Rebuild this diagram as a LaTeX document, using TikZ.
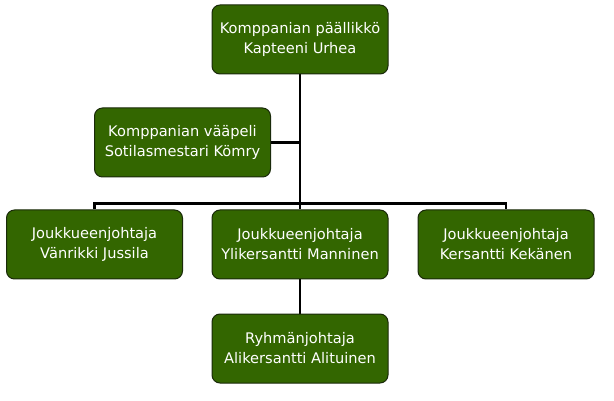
\documentclass[tikz,border=0pt]{standalone}
\usepackage{fontspec}
\setmainfont{DejaVu Sans}
\definecolor{boxgreen}{HTML}{336600}
\definecolor{boxedge}{HTML}{1A2A0A}
\pgfdeclarelayer{background}
\pgfsetlayers{background,main}
\begin{document}
\begin{tikzpicture}[x=1pt,y=-1pt,
  box/.style={draw=boxedge, line width=1pt, fill=boxgreen, rounded corners=8pt,
    minimum width=176pt, minimum height=69pt, align=center, text=white,
    font=\fontsize{14.6}{20}\selectfont, inner sep=0pt},
  conn/.style={line width=2.6pt, draw=black}]
\useasboundingbox (0,0) rectangle (614,401);
\node[box] (cpt) at (300,39.5) {Komppanian päällikkö\\Kapteeni Urhea};
\node[box] (vp) at (182.5,142.5) {Komppanian vääpeli\\Sotilasmestari Kömry};
\node[box] (j1) at (94.5,244.5) {Joukkueenjohtaja\\Vänrikki Jussila};
\node[box] (j2) at (300,244.5) {Joukkueenjohtaja\\Ylikersantti Manninen};
\node[box] (j3) at (506,244.5) {Joukkueenjohtaja\\Kersantti Kekänen};
\node[box] (r1) at (300,348.5) {Ryhmänjohtaja\\Alikersantti Alituinen};
\coordinate (bus) at (300,203.5);
\begin{pgfonlayer}{background}
\draw[conn] (cpt.south) -- (j2.north);
\draw[conn] (vp.east) -- (vp.east -| cpt.south);
\draw[conn] (j1.north) |- (bus) -| (j3.north);
\draw[conn] (j2.south) -- (r1.north);
\end{pgfonlayer}
\end{tikzpicture}
\end{document}
